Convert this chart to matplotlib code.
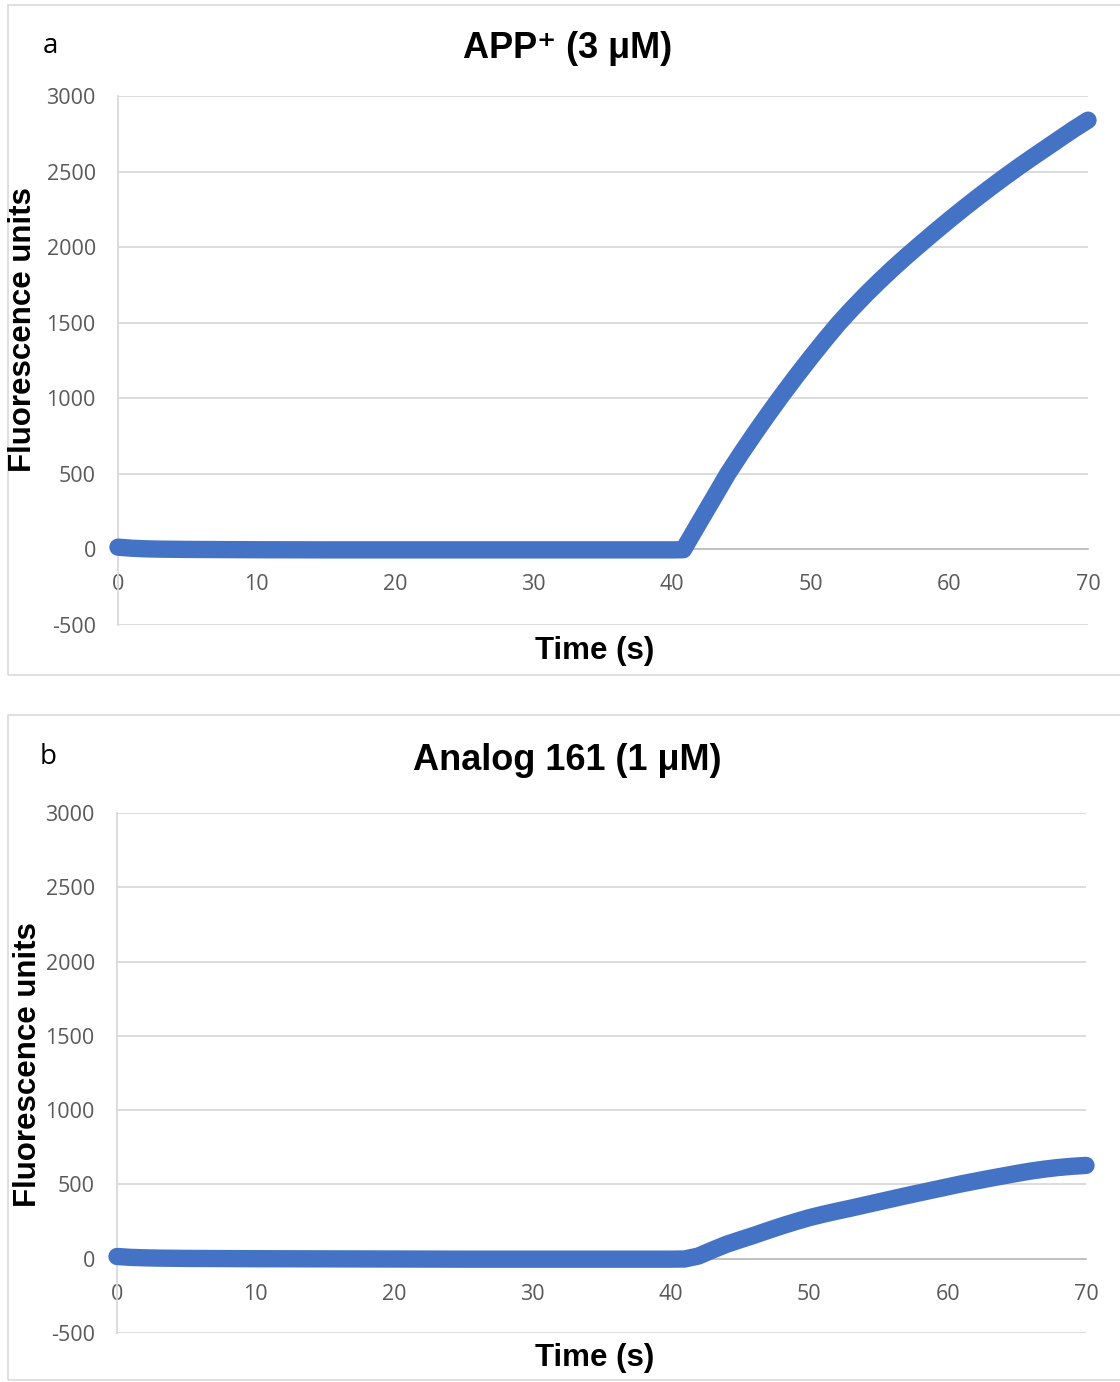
import matplotlib
matplotlib.use("Agg")
import matplotlib.pyplot as plt
from matplotlib.patches import Rectangle

# ---- data ----
time_a = [0, 1, 2, 3, 5, 10, 15, 20, 25, 30, 35, 40, 40.8, 41, 42, 43, 44, 45, 46, 47,
          48, 49, 50, 51, 52, 53, 54, 55, 56, 57, 58, 59, 60, 61, 62, 63, 64, 65, 66,
          67, 68, 69, 70]
fluor_a = [15, 8, 4, 2, 0, -2, -3, -3, -3, -3, -3, -3, -2, 30, 187, 343, 500, 640, 775, 905,
           1031, 1153, 1271, 1385, 1495, 1595, 1690, 1780, 1866, 1948, 2027, 2105, 2181,
           2255, 2327, 2397, 2465, 2531, 2595, 2657, 2720, 2782, 2840]

time_b = [0, 1, 2, 3, 5, 10, 15, 20, 25, 30, 35, 40, 41, 42, 43, 44, 45, 46, 47, 48, 49,
          50, 51, 52, 53, 54, 55, 56, 57, 58, 59, 60, 61, 62, 63, 64, 65, 66, 67, 68, 69, 70]
fluor_b = [15, 9, 6, 4, 2, 0, -1, -2, -3, -3, -3, -3, -2, 18, 58, 96, 127, 157, 189, 220, 249,
           276, 299, 320, 340, 361, 382, 403, 424, 444, 464, 484, 504, 522, 540, 557, 574,
           590, 603, 614, 622, 628]

titles = ["APP\u207a (3 \u03bcM)", "Analog 161 (1 \u03bcM)"]
panel_letters = ["a", "b"]
xticks = [0, 10, 20, 30, 40, 50, 60, 70]
yticks = [-500, 0, 500, 1000, 1500, 2000, 2500, 3000]
x_label = "Time (s)"
y_label = "Fluorescence units"

W, H = 1120, 1382
fig = plt.figure(figsize=(W / 100, H / 100), dpi=100)

BLUE = "#4472C4"
GRID = "#d9d9d9"
TICKC = "#595959"
bold_fam = ["Liberation Sans", "DejaVu Sans"]
tick_fam = ["Open Sans", "DejaVu Sans"]

def fx(px):
    return px / W

def fy(py):
    return 1 - py / H

panels = [
    dict(box=(8, 5, 1130, 675), ax=(118, 96, 1088, 625), title_y=48, letter=(43, 46),
         ylab=(23, 330), xlab=(595, 651), t=time_a, v=fluor_a),
    dict(box=(8, 715, 1130, 1380), ax=(117, 813, 1086, 1333), title_y=761, letter=(40, 757),
         ylab=(28, 1065), xlab=(595, 1358), t=time_b, v=fluor_b),
]

for i, p in enumerate(panels):
    bx0, by0, bx1, by1 = p["box"]
    fig.patches.append(Rectangle((fx(bx0), fy(by1)), fx(bx1 - bx0), (by1 - by0) / H,
                                 transform=fig.transFigure, fill=False,
                                 edgecolor=GRID, linewidth=1.2))
    ax0, ay0, ax1, ay1 = p["ax"]
    ax = fig.add_axes([fx(ax0), fy(ay1), fx(ax1 - ax0), (ay1 - ay0) / H])
    ax.set_xlim(0, 70)
    ax.set_ylim(-500, 3000)
    ax.set_xticks(xticks)
    ax.set_yticks(yticks)
    ax.set_yticklabels([str(v) for v in yticks])
    ax.set_xticklabels([str(v) for v in xticks])
    ax.yaxis.grid(True, color=GRID, linewidth=1.3)
    ax.set_axisbelow(True)
    for s in ["top", "right"]:
        ax.spines[s].set_visible(False)
    ax.spines["left"].set_color(GRID)
    ax.spines["left"].set_linewidth(1.3)
    ax.spines["bottom"].set_position(("data", 0))
    ax.spines["bottom"].set_color("#bfbfbf")
    ax.spines["bottom"].set_linewidth(1.3)
    ax.tick_params(axis="both", length=0, labelcolor=TICKC, labelsize=15.5)
    ax.tick_params(axis="x", pad=18)
    ax.tick_params(axis="y", pad=16)
    for lab in ax.get_xticklabels() + ax.get_yticklabels():
        lab.set_family(tick_fam)
    ax.plot(p["t"], p["v"], color=BLUE, linewidth=12.5,
            solid_capstyle="round", solid_joinstyle="round", zorder=3, clip_on=False)

    fig.text(0.5067, fy(p["title_y"]), titles[i], ha="center", va="center",
             fontsize=26, fontweight="bold", family=bold_fam)
    fig.text(fx(p["letter"][0]), fy(p["letter"][1]), panel_letters[i], ha="left",
             va="center", fontsize=20, family=tick_fam)
    fig.text(fx(p["ylab"][0]), fy(p["ylab"][1]), y_label, ha="center", va="center",
             rotation=90, fontsize=22.5, fontweight="bold", family=bold_fam)
    fig.text(fx(p["xlab"][0]), fy(p["xlab"][1]), x_label, ha="center", va="center",
             fontsize=22.5, fontweight="bold", family=bold_fam)

fig.savefig("out.png", dpi=100, facecolor="white")
